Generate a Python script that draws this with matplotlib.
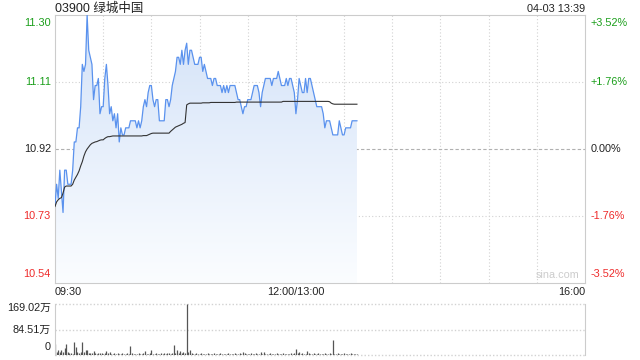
import numpy as np
import matplotlib.pyplot as plt
from matplotlib.colors import LinearSegmentedColormap
from matplotlib.transforms import offset_copy

plt.rcParams['font.family'] = ['Liberation Sans', 'Noto Sans CJK SC', 'DejaVu Sans']

# header / axis texts
code_name = '03900 绿城中国'
stamp = '04-03 13:39'
price_ticks = [10.54, 10.73, 10.92, 11.11, 11.30]
price_labels = ['10.54', '10.73', '10.92', '11.11', '11.30']
pct_labels = ['-3.52%', '-1.76%', '0.00%', '+1.76%', '+3.52%']
vol_ticks = [0, 84.51, 169.02]
vol_labels = ['0', '84.51万', '169.02万']
time_labels = ['09:30', '12:00/13:00', '16:00']
time_pos = [0, 150, 330]   # trading minutes after 09:30 (lunch removed)

# one value per minute
price = [10.76, 10.82, 10.78, 10.86, 10.80, 10.74, 10.86, 10.86, 10.82, 10.82,
         10.82, 10.86, 10.94, 10.94, 10.98, 10.98, 11.04, 11.16, 11.14, 11.16,
         11.30, 11.20, 11.18, 11.16, 11.06, 11.10, 11.10, 11.12, 11.02, 11.04,
         11.04, 11.12, 11.16, 11.10, 11.02, 11.04, 11.00, 11.02, 10.98, 11.02,
         10.94, 10.98, 10.96, 10.96, 10.98, 10.98, 10.98, 11.00, 11.00, 11.00,
         11.00, 10.98, 11.00, 10.98, 11.00, 11.04, 11.06, 11.04, 11.08, 11.10,
         11.10, 11.06, 11.04, 11.06, 11.06, 11.00, 11.00, 11.00, 11.00, 11.06,
         11.06, 11.04, 11.06, 11.10, 11.12, 11.14, 11.18, 11.18, 11.16, 11.20,
         11.16, 11.20, 11.22, 11.16, 11.20, 11.20, 11.18, 11.16, 11.16, 11.16,
         11.18, 11.18, 11.14, 11.16, 11.14, 11.12, 11.12, 11.12, 11.10, 11.12,
         11.12, 11.10, 11.10, 11.10, 11.08, 11.10, 11.08, 11.10, 11.08, 11.10,
         11.10, 11.10, 11.10, 11.08, 11.06, 11.06, 11.04, 11.02, 11.04, 11.04,
         11.06, 11.06, 11.06, 11.08, 11.10, 11.10, 11.10, 11.08, 11.04, 11.08,
         11.10, 11.12, 11.12, 11.12, 11.12, 11.10, 11.12, 11.12, 11.12, 11.14,
         11.12, 11.10, 11.10, 11.10, 11.12, 11.10, 11.12, 11.12, 11.10, 11.08,
         11.02, 11.06, 11.12, 11.10, 11.08, 11.08, 11.12, 11.08, 11.12, 11.12,
         11.10, 11.08, 11.06, 11.04, 11.04, 11.04, 11.04, 11.02, 10.98, 11.00,
         11.00, 11.00, 10.98, 10.96, 10.96, 10.96, 10.96, 11.00, 10.98, 10.96,
         10.96, 10.98, 10.98, 10.98, 10.98, 11.00, 11.00, 11.00, 11.00]

avg_price = [10.757, 10.770, 10.776, 10.780, 10.782, 10.795, 10.812, 10.815, 10.815, 10.815,
             10.815, 10.820, 10.832, 10.840, 10.848, 10.858, 10.872, 10.884, 10.900, 10.912,
             10.920, 10.926, 10.932, 10.936, 10.938, 10.940, 10.941, 10.943, 10.945, 10.946,
             10.946, 10.950, 10.953, 10.955, 10.955, 10.956, 10.957, 10.957, 10.957, 10.957,
             10.957, 10.957, 10.957, 10.957, 10.957, 10.957, 10.957, 10.957, 10.957, 10.957,
             10.957, 10.957, 10.957, 10.957, 10.957, 10.958, 10.958, 10.958, 10.960, 10.962,
             10.964, 10.965, 10.965, 10.965, 10.965, 10.965, 10.965, 10.965, 10.965, 10.965,
             10.965, 10.965, 10.970, 10.974, 10.978, 10.982, 10.984, 10.986, 10.988, 10.990,
             10.993, 10.995, 11.045, 11.048, 11.050, 11.050, 11.050, 11.050, 11.050, 11.050,
             11.050, 11.050, 11.051, 11.051, 11.051, 11.051, 11.051, 11.052, 11.052, 11.052,
             11.052, 11.052, 11.052, 11.052, 11.052, 11.052, 11.052, 11.052, 11.052, 11.052,
             11.052, 11.052, 11.052, 11.053, 11.053, 11.053, 11.053, 11.053, 11.053, 11.053,
             11.053, 11.053, 11.053, 11.053, 11.053, 11.053, 11.053, 11.053, 11.053, 11.053,
             11.053, 11.053, 11.053, 11.053, 11.053, 11.053, 11.053, 11.053, 11.053, 11.053,
             11.053, 11.053, 11.055, 11.055, 11.055, 11.055, 11.055, 11.055, 11.055, 11.055,
             11.055, 11.055, 11.055, 11.055, 11.055, 11.055, 11.055, 11.055, 11.055, 11.055,
             11.055, 11.055, 11.055, 11.055, 11.055, 11.055, 11.055, 11.055, 11.055, 11.055,
             11.055, 11.054, 11.050, 11.048, 11.047, 11.047, 11.047, 11.047, 11.047, 11.047,
             11.047, 11.047, 11.047, 11.047, 11.047, 11.047, 11.047, 11.047, 11.047]

# volume in 万 shares
volume = [37, 11, 17, 11, 17, 11, 22, 37, 11, 6,
          6, 3, 44, 26, 11, 8, 11, 44, 11, 17,
          15, 8, 8, 6, 13, 6, 3, 8, 6, 8,
          3, 6, 13, 6, 11, 4, 3, 5, 3, 6,
          4, 3, 5, 3, 4, 5, 3, 30, 5, 3,
          4, 3, 5, 3, 4, 6, 13, 4, 3, 5,
          17, 4, 3, 5, 3, 4, 6, 3, 5, 4,
          8, 5, 3, 6, 34, 8, 17, 6, 13, 5,
          11, 6, 169.02, 11, 17, 5, 4, 3, 5, 3,
          4, 6, 3, 4, 3, 5, 3, 4, 3, 5,
          3, 4, 3, 5, 4, 3, 4, 3, 5, 3,
          4, 3, 5, 4, 3, 5, 4, 9, 5, 3,
          4, 3, 5, 3, 4, 6, 3, 4, 11, 4,
          9, 3, 4, 3, 5, 3, 4, 3, 5, 3,
          4, 3, 5, 4, 3, 4, 3, 5, 4, 6,
          20, 6, 9, 4, 5, 3, 4, 13, 5, 4,
          3, 5, 4, 3, 5, 3, 4, 3, 8, 4,
          3, 5, 4, 50, 4, 3, 5, 3, 4, 3,
          5, 3, 4, 3, 5, 3, 4, 3, 4]

minutes = np.arange(len(price))

GREEN = '#1a9e1a'
RED = '#ee2a2a'
GRID = '#d2d2d2'
label_colors = [RED, RED, '#222222', GREEN, GREEN]
FS = 7.8

fig = plt.figure(figsize=(6.4, 3.6), dpi=100)
ax = fig.add_axes([55/640, 1-283/360, 530/640, 268/360])
vx = fig.add_axes([55/640, 1-355/360, 530/640, 51/360])

ax.set_xlim(0, 330)
ax.set_ylim(price_ticks[0], price_ticks[-1])

# gradient fill under the price line
cmap = LinearSegmentedColormap.from_list('fade', ['#fbfdff', '#d3e2f8'])
grad = np.linspace(0, 1, 256).reshape(-1, 1)
im = ax.imshow(grad, cmap=cmap, aspect='auto', origin='lower',
               extent=[0, minutes[-1], price_ticks[0], max(price)], zorder=1)
poly = ax.fill_between(minutes, price, price_ticks[0], color='none', lw=0)
im.set_clip_path(poly.get_paths()[0], transform=ax.transData)

for t in range(30, 330, 30):
    ax.axvline(t, color=GRID, lw=0.8, ls=(0, (1, 2)), zorder=0)
for p in (price_ticks[1], price_ticks[3]):
    ax.axhline(p, color=GRID, lw=0.8, ls=(0, (1, 2)), zorder=0)
ax.axhline(price_ticks[2], color='#b0b0b0', lw=0.8, ls=(0, (3, 2)), zorder=0)

ax.plot(minutes, price, color='#5a92ee', lw=0.9, zorder=3)
ax.plot(minutes, avg_price, color='#333333', lw=0.8, zorder=4)

ax.set_xticks([])
ax.set_yticks([])
for s in ax.spines.values():
    s.set_color('#cccccc')
    s.set_linewidth(0.8)

ytr = ax.get_yaxis_transform()
left_tr = offset_copy(ytr, fig=fig, x=-3, y=0, units='points')
right_tr = offset_copy(ytr, fig=fig, x=4, y=0, units='points')
for i, p in enumerate(price_ticks):
    va = 'center'
    dy = 0
    if i == 0:
        va, dy = 'bottom', 3
    elif i == len(price_ticks) - 1:
        va, dy = 'top', -2
    ltr = offset_copy(left_tr, fig=fig, x=0, y=dy, units='points')
    rtr = offset_copy(right_tr, fig=fig, x=0, y=dy, units='points')
    ax.text(0, p, price_labels[i], transform=ltr, ha='right', va=va,
            fontsize=FS, color=label_colors[i])
    ax.text(1, p, pct_labels[i], transform=rtr, ha='left', va=va,
            fontsize=FS, color=label_colors[i])

ax.text(0.99, 0.01, 'sina.com', transform=ax.transAxes, ha='right', va='bottom',
        fontsize=FS, color='#cccccc')

fig.text(55/640, 1-9/360, code_name, ha='left', va='center', fontsize=9, color='#222222')
fig.text(585/640, 1-9/360, stamp, ha='right', va='center', fontsize=FS, color='#222222')

for lab, t, ha in zip(time_labels, time_pos, ['left', 'center', 'right']):
    fig.text((55 + 530 * t / 330) / 640, 1-292/360, lab, ha=ha, va='center',
             fontsize=FS, color='#222222')

# volume panel
vx.set_xlim(0, 330)
vx.set_ylim(0, vol_ticks[-1])
vx.vlines(minutes, 0, volume, color='#555555', lw=0.9)
for v in vol_ticks:
    vx.axhline(v, color=GRID, lw=1.0, ls=(0, (1, 1.5)), zorder=0, clip_on=False)
vx.set_xticks([])
vx.set_yticks([])
for k in ('top', 'bottom'):
    vx.spines[k].set_visible(False)
for k in ('left', 'right'):
    vx.spines[k].set_color('#cccccc')
    vx.spines[k].set_linewidth(0.8)

vtr = offset_copy(vx.get_yaxis_transform(), fig=fig, x=-3, y=0, units='points')
for v, lab, va, dy in zip(vol_ticks, vol_labels, ['bottom', 'center', 'top'], [2, 0, 1]):
    tr = offset_copy(vtr, fig=fig, x=0, y=dy, units='points')
    vx.text(0, v, lab, transform=tr, ha='right', va=va, fontsize=FS, color='#222222')

fig.savefig('out.png', dpi=100)
